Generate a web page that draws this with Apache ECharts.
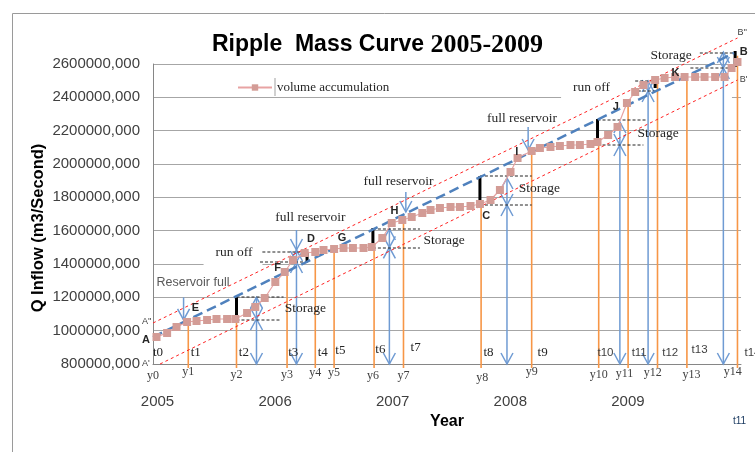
<!DOCTYPE html>
<html>
<head>
<meta charset="utf-8">
<script src="https://cdn.jsdelivr.net/npm/echarts@6/dist/echarts.min.js"></script>
<style>
html,body{margin:0;padding:0;background:#fff;}
#chart{width:755px;height:452px;}
</style>
</head>
<body>
<div id="chart"></div>
<script>
// volume accumulation (million m3) against time in years
const massYears = [2005.03, 2005.12, 2005.20, 2005.29, 2005.37, 2005.46, 2005.54, 2005.63, 2005.70, 2005.80,
  2005.87, 2005.95, 2006.04, 2006.12, 2006.19, 2006.29, 2006.38, 2006.45, 2006.54, 2006.62,
  2006.70, 2006.79, 2006.86, 2006.95, 2007.03, 2007.12, 2007.20, 2007.29, 2007.36, 2007.44,
  2007.53, 2007.61, 2007.70, 2007.78, 2007.87, 2007.95, 2008.04, 2008.10, 2008.22, 2008.29,
  2008.38, 2008.46, 2008.55, 2008.63, 2008.72, 2008.78, 2008.87, 2008.95, 2009.03, 2009.10,
  2009.17, 2009.27, 2009.35, 2009.44, 2009.52, 2009.61, 2009.69, 2009.78, 2009.86, 2009.92, 2009.97];
const massVolume = [962, 986, 1022, 1052, 1058, 1064, 1070, 1070, 1070, 1106,
  1142, 1196, 1292, 1352, 1424, 1466, 1472, 1484, 1490, 1496,
  1496, 1496, 1502, 1556, 1646, 1664, 1682, 1706, 1724, 1736,
  1742, 1742, 1748, 1760, 1784, 1844, 1952, 2036, 2078, 2096,
  2102, 2108, 2114, 2114, 2120, 2132, 2174, 2222, 2366, 2432,
  2474, 2504, 2516, 2522, 2522, 2522, 2522, 2522, 2522, 2576, 2612];

// demand line A-B and the two parallel lines A''-B'' and A'-B'
const demandLine = [[2005.0, 962], [2009.94, 2666]];
const upperLine = [[2005.0, 1046], [2009.97, 2756]];
const lowerLine = [[2005.06, 800], [2009.97, 2504]];

// orange verticals t1..t14 (x, top)
const outflowX = [2005.30, 2005.71, 2006.14, 2006.38, 2006.54, 2006.88, 2007.13, 2007.79, 2008.22, 2008.79, 2009.04, 2009.29, 2009.54, 2009.97];
const outflowTop = [1060, 1065, 1330, 1440, 1490, 1500, 1676, 1754, 2084, 2126, 2354, 2504, 2522, 2650];

// blue arrows: x, from, to, head at from, head at to
const arrowSegs = [
  [2005.26, 1200, 1065, 0, 1],
  [2005.88, 1200, 1070, 1, 1], [2005.88, 1070, 800, 1, 1],
  [2006.22, 1604, 1484, 0, 1], [2006.22, 1484, 1412, 1, 1], [2006.22, 1412, 800, 1, 1],
  [2007.01, 1610, 1500, 1, 1], [2007.01, 1500, 800, 1, 1],
  [2007.15, 1832, 1712, 0, 1],
  [2008.01, 1916, 1754, 1, 1], [2008.01, 1754, 800, 1, 1],
  [2008.19, 2222, 2084, 0, 1],
  [2008.97, 2252, 2114, 1, 1], [2008.97, 2114, 800, 1, 1],
  [2009.21, 2498, 2438, 1, 1], [2009.21, 2438, 800, 1, 1],
  [2009.85, 2672, 2576, 1, 1], [2009.85, 2576, 800, 1, 1]
];

// black storage bars: x, bottom, top
const storageBars = [[2005.71, 1065, 1200], [2006.31, 1412, 1472], [2006.87, 1496, 1616], [2007.78, 1754, 1928],
  [2008.78, 2114, 2270], [2009.27, 2456, 2510], [2009.95, 2582, 2678]];

// dashed level lines: x1, x2, level
const levelLines = [
  [2005.71, 2006.11, 1202], [2005.71, 2006.08, 1064],
  [2005.93, 2006.32, 1472], [2005.91, 2006.32, 1412],
  [2006.87, 2007.27, 1610], [2006.87, 2007.27, 1496],
  [2007.78, 2008.22, 1928], [2007.78, 2008.22, 1754],
  [2008.78, 2009.20, 2264], [2008.78, 2009.17, 2114],
  [2009.10, 2009.29, 2498], [2009.08, 2009.29, 2438],
  [2009.65, 2009.93, 2666], [2009.57, 2009.93, 2576]
];

const tNames = ['t0', 't1', 't2', 't3', 't4', 't5', 't6', 't7', 't8', 't9', 't10', 't11', 't12', 't13', 't14'];
const tLabelX = [2005.00, 2005.32, 2005.73, 2006.15, 2006.40, 2006.55, 2006.89, 2007.19, 2007.81, 2008.27, 2008.78, 2009.07, 2009.33, 2009.58, 2010.03];
const tLabelY = [866, 866, 866, 866, 866, 878, 884, 896, 866, 866, 866, 866, 866, 884, 866];

const yNames = ['y0', 'y1', 'y2', 'y3', 'y4', 'y5', 'y6', 'y7', 'y8', 'y9', 'y10', 'y11', 'y12', 'y13', 'y14'];
const yLabelX = [2005.0, 2005.30, 2005.71, 2006.14, 2006.38, 2006.54, 2006.87, 2007.13, 2007.80, 2008.22, 2008.79, 2009.01, 2009.25, 2009.58, 2009.93];
const yLabelY = [728, 752, 734, 734, 746, 746, 728, 728, 716, 752, 734, 740, 746, 734, 752];

const serifNotes = [
  ['Storage', 2006.12, 1136], ['full reservoir', 2006.04, 1682], ['Storage', 2007.30, 1544],
  ['full reservoir', 2006.79, 1898], ['Storage', 2008.11, 1856], ['full reservoir', 2007.84, 2276],
  ['Storage', 2009.12, 2186], ['Storage', 2009.23, 2654]
];
const boxNotes = [['run off', 2005.43, 1472, [5, 10, 10, 12]], ['run off', 2008.47, 2462, [3, 122, 12, 12]]];
const letterNotes = [['E', 2005.33, 1136], ['F', 2006.03, 1376], ['D', 2006.31, 1550], ['G', 2006.57, 1556],
  ['H', 2007.02, 1718], ['C', 2007.80, 1688], ['I', 2008.08, 2072], ['J', 2008.91, 2342], ['K', 2009.41, 2546],
  ['B', 2009.99, 2672], ['A', 2004.906, 944]];
const primeNotes = [["B''", 2009.97, 2786], ["B'", 2009.99, 2504], ["A''", 2004.906, 1052], ["A'", 2004.906, 800]];

const arrowColor = '#6f9bd3';

function head(x, y, dir) {
  return {type: 'polyline', shape: {points: [[x - 6, y - dir * 11], [x, y], [x + 6, y - dir * 11]]},
    style: {stroke: arrowColor, fill: null, lineWidth: 1.5}};
}

function drawSeries(list, draw, z) {
  return {
    type: 'custom', silent: true, z: z,
    data: list.map(d => [d[0], d[1]]),
    renderItem: function (params, api) { return draw(list[params.dataIndex], api); }
  };
}

function textSeries(list, style, z) {
  return drawSeries(list.map(n => [n[1], n[2], n[0], n[3]]), function (n, api) {
    const p = api.coord([n[0], n[1]]);
    const s = Object.assign({text: n[2], align: 'left', verticalAlign: 'middle'}, style);
    if (n[3]) { s.backgroundColor = '#fff'; s.padding = n[3]; }
    return {type: 'text', x: p[0], y: p[1], style: s};
  }, z);
}

const serif = '"Liberation Serif", "Times New Roman", serif';
const sans = '"Liberation Sans", Arial, sans-serif';

const chart = echarts.init(document.getElementById('chart'));
chart.setOption({
  animation: false,
  title: {
    text: '{a|Ripple  Mass Curve }{b|2005-2009}',
    left: 'center', top: 27,
    textStyle: {rich: {
      a: {fontFamily: sans, fontWeight: 'bold', fontSize: 23, color: '#000'},
      b: {fontFamily: serif, fontWeight: 'bold', fontSize: 26, color: '#000'}
    }}
  },
  legend: {
    data: ['volume accumulation'], left: 232, top: 76, itemWidth: 34, itemHeight: 8, itemGap: 6,
    textStyle: {fontFamily: serif, fontSize: 13, color: '#262626'}
  },
  grid: {left: 153, right: 14, top: 64, bottom: 88},
  xAxis: {
    type: 'value', min: 2005, max: 2010, interval: 1,
    name: 'Year', nameLocation: 'middle', nameGap: 50,
    nameTextStyle: {fontFamily: sans, fontWeight: 'bold', fontSize: 16, color: '#000'},
    axisLine: {lineStyle: {color: '#868686'}},
    axisTick: {show: false},
    splitLine: {show: false},
    axisLabel: {margin: 30, fontFamily: sans, fontSize: 15, color: '#404040', padding: [0, 0, 0, 9],
      formatter: v => (v < 2010 ? String(v) : '')}
  },
  yAxis: {
    type: 'value', min: 800, max: 2600, interval: 200,
    axisLine: {show: true, lineStyle: {color: '#868686'}},
    axisTick: {show: false},
    splitLine: {lineStyle: {color: '#a6a6a6'}},
    axisLabel: {margin: 13, fontFamily: sans, fontSize: 15, color: '#404040', formatter: v => v + '000,000'}
  },
  graphic: [
    {type: 'rect', left: 10, top: 11, shape: {width: 780, height: 470}, style: {fill: 'none', stroke: '#9a9a9a', lineWidth: 1}},
    {type: 'text', x: 38, y: 228, rotation: Math.PI / 2,
      style: {text: 'Q Inflow (m3/Second)', align: 'center', verticalAlign: 'middle', fontFamily: sans, fontWeight: 'bold', fontSize: 16.5, fill: '#000'}},
    {type: 'text', left: 733, top: 416, style: {text: 't11', fontFamily: sans, fontSize: 10, fill: '#17375e'}},
    {type: 'rect', left: 274, top: 78, shape: {width: 2, height: 18}, style: {fill: '#d0d0d0'}}
  ],
  series: [
    textSeries(boxNotes, {fontFamily: serif, fontSize: 13.5, fill: '#262626'}, 1),
    drawSeries(outflowX.map((x, i) => [x, outflowTop[i]]), function (d, api) {
      const a = api.coord([d[0], d[1]]), b = api.coord([d[0], 776]);
      return {type: 'line', shape: {x1: a[0], y1: a[1], x2: b[0], y2: b[1]}, style: {stroke: '#f79646', lineWidth: 1.6}};
    }, 2),
    drawSeries(arrowSegs, function (d, api) {
      const a = api.coord([d[0], d[1]]), b = api.coord([d[0], d[2]]);
      const dir = b[1] > a[1] ? 1 : -1;
      const kids = [{type: 'line', shape: {x1: a[0], y1: a[1], x2: b[0], y2: b[1]}, style: {stroke: arrowColor, lineWidth: 1.5}}];
      if (d[3]) kids.push(head(a[0], a[1], -dir));
      if (d[4]) kids.push(head(b[0], b[1], dir));
      return {type: 'group', children: kids};
    }, 2),
    drawSeries(levelLines, function (d, api) {
      const a = api.coord([d[0], d[2]]), b = api.coord([d[1], d[2]]);
      return {type: 'line', shape: {x1: a[0], y1: a[1], x2: b[0], y2: b[1]}, style: {stroke: '#222', lineWidth: 1, lineDash: [3, 2]}};
    }, 2),
    drawSeries(storageBars, function (d, api) {
      const a = api.coord([d[0], d[1]]), b = api.coord([d[0], d[2]]);
      return {type: 'line', shape: {x1: a[0], y1: a[1], x2: b[0], y2: b[1]}, style: {stroke: '#000', lineWidth: 3}};
    }, 3),
    {type: 'line', data: upperLine, symbol: 'none', clip: false, silent: true, z: 3,
      lineStyle: {color: '#ff2020', width: 1, type: [3, 3]}},
    {type: 'line', data: lowerLine, symbol: 'none', clip: false, silent: true, z: 3,
      lineStyle: {color: '#ff2020', width: 1, type: [3, 3]}},
    {type: 'line', data: demandLine, symbol: 'none', clip: false, silent: true, z: 3,
      lineStyle: {color: '#4f81bd', width: 2.5, type: [10, 5]}},
    {name: 'volume accumulation', type: 'line', data: massYears.map((x, i) => [x, massVolume[i]]),
      symbol: 'rect', symbolSize: 8, clip: false, z: 4,
      lineStyle: {color: '#e8a3a3', width: 1.2},
      itemStyle: {color: '#d39c96'}},
    textSeries(serifNotes, {fontFamily: serif, fontSize: 13.5, fill: '#262626'}, 5),
    textSeries([['Reservoir full', 2005.03, 1286]], {fontFamily: sans, fontSize: 12.5, fill: '#595959'}, 5),
    textSeries(letterNotes, {fontFamily: sans, fontWeight: 'bold', fontSize: 11, fill: '#262626'}, 5),
    textSeries(primeNotes, {fontFamily: sans, fontSize: 9, fill: '#404040'}, 5),
    textSeries(tNames.map((t, i) => [t, tLabelX[i], tLabelY[i]]).slice(0, 10), {fontFamily: serif, fontSize: 13, fill: '#262626'}, 5),
    textSeries(tNames.map((t, i) => [t, tLabelX[i], tLabelY[i]]).slice(10), {fontFamily: sans, fontSize: 11.5, fill: '#404040'}, 5),
    textSeries(yNames.map((t, i) => [t, yLabelX[i], yLabelY[i]]), {fontFamily: serif, fontSize: 12, fill: '#404040', align: 'center'}, 5)
  ]
});
</script>
</body>
</html>
